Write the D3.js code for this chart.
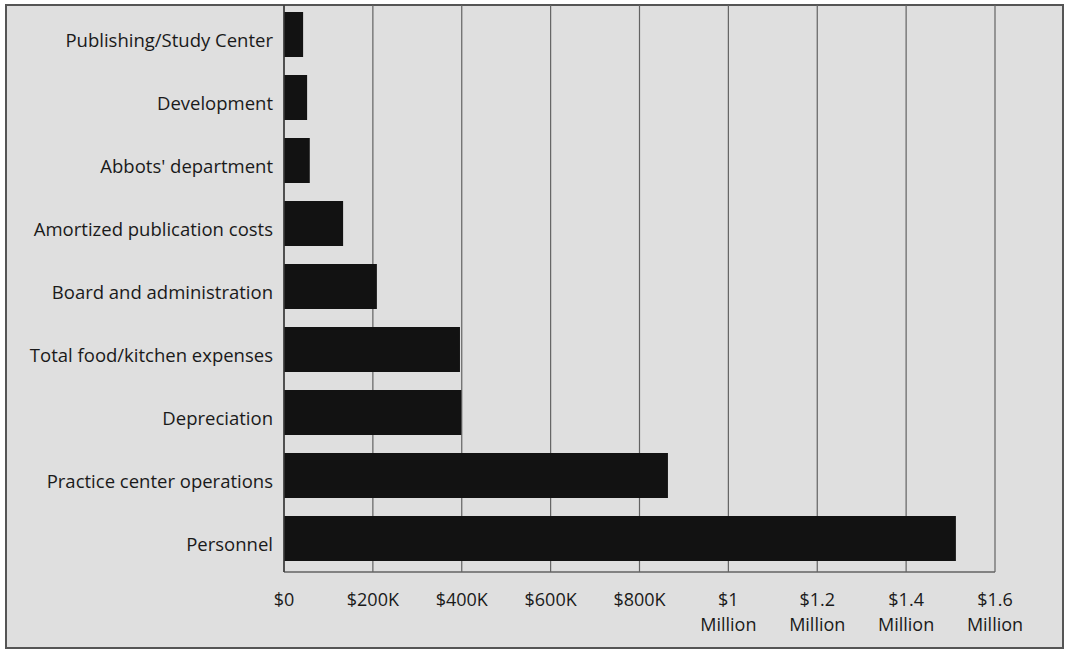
<!DOCTYPE html>
<html>
<head>
<meta charset="utf-8">
<script src="https://cdn.jsdelivr.net/npm/d3@7"></script>
<style>
  html, body { margin: 0; padding: 0; background: #ffffff; }
  svg { display: block; }
</style>
</head>
<body>
<div id="chart"></div>
<script>
// Expense categories, top to bottom
const categories = [
  "Publishing/Study Center",
  "Development",
  "Abbots' department",
  "Amortized publication costs",
  "Board and administration",
  "Total food/kitchen expenses",
  "Depreciation",
  "Practice center operations",
  "Personnel"
];

// Dollar amounts
const values = [43000, 52000, 58000, 133000, 209000, 396000, 399000, 864000, 1512000];

// Axis ticks and their labels (two lines where the label wraps)
const tickValues = [0, 200000, 400000, 600000, 800000, 1000000, 1200000, 1400000, 1600000];
const tickLabels = [
  ["$0"], ["$200K"], ["$400K"], ["$600K"], ["$800K"],
  ["$1", "Million"], ["$1.2", "Million"], ["$1.4", "Million"], ["$1.6", "Million"]
];

const width = 1068;
const height = 651;
const frame = { left: 6, top: 5, right: 1063, bottom: 648 };
const plot = { left: 284, top: 5, right: 995, bottom: 572 };

const svg = d3.select("#chart").append("svg")
  .attr("width", width)
  .attr("height", height)
  .style("font-family", "'Open Sans', sans-serif");

// Outer frame
svg.append("rect")
  .attr("x", frame.left)
  .attr("y", frame.top)
  .attr("width", frame.right - frame.left)
  .attr("height", frame.bottom - frame.top)
  .attr("fill", "#dfdfdf")
  .attr("stroke", "#555555")
  .attr("stroke-width", 2);

const x = d3.scaleLinear()
  .domain([0, 1600000])
  .range([plot.left, plot.right]);

const y = d3.scaleBand()
  .domain(categories)
  .range([3, 570])
  .paddingInner(0.286)
  .paddingOuter(0.143);

// Vertical gridlines
svg.append("g")
  .selectAll("line")
  .data(tickValues)
  .join("line")
  .attr("x1", (d) => x(d))
  .attr("x2", (d) => x(d))
  .attr("y1", plot.top)
  .attr("y2", plot.bottom)
  .attr("stroke", "#636363")
  .attr("stroke-width", 1.2);

// Plot bottom edge
svg.append("line")
  .attr("x1", plot.left)
  .attr("x2", plot.right)
  .attr("y1", plot.bottom)
  .attr("y2", plot.bottom)
  .attr("stroke", "#636363")
  .attr("stroke-width", 1.5);

// Bars
svg.append("g")
  .selectAll("rect")
  .data(values)
  .join("rect")
  .attr("x", x(0))
  .attr("y", (d, i) => y(categories[i]))
  .attr("width", (d) => x(d) - x(0))
  .attr("height", y.bandwidth())
  .attr("fill", "#121212");

// Left axis line drawn over bars
svg.append("line")
  .attr("x1", plot.left)
  .attr("x2", plot.left)
  .attr("y1", plot.top)
  .attr("y2", plot.bottom)
  .attr("stroke", "#3a3a3a")
  .attr("stroke-width", 1.5);

// Category labels
svg.append("g")
  .selectAll("text")
  .data(categories)
  .join("text")
  .attr("x", plot.left - 11)
  .attr("y", (d) => y(d) + y.bandwidth() / 2 + 12)
  .attr("text-anchor", "end")
  .attr("font-size", 18.5)
  .attr("fill", "#1a1a1a")
  .text((d) => d);

// Tick labels
const tick = svg.append("g")
  .selectAll("text")
  .data(tickValues)
  .join("text")
  .attr("text-anchor", "middle")
  .attr("font-size", 18)
  .attr("fill", "#1a1a1a");

tick.selectAll("tspan")
  .data((d, i) => tickLabels[i].map((t) => ({ t, v: d })))
  .join("tspan")
  .attr("x", (d) => x(d.v))
  .attr("y", (d, j) => 606 + j * 25)
  .text((d) => d.t);
</script>
</body>
</html>
